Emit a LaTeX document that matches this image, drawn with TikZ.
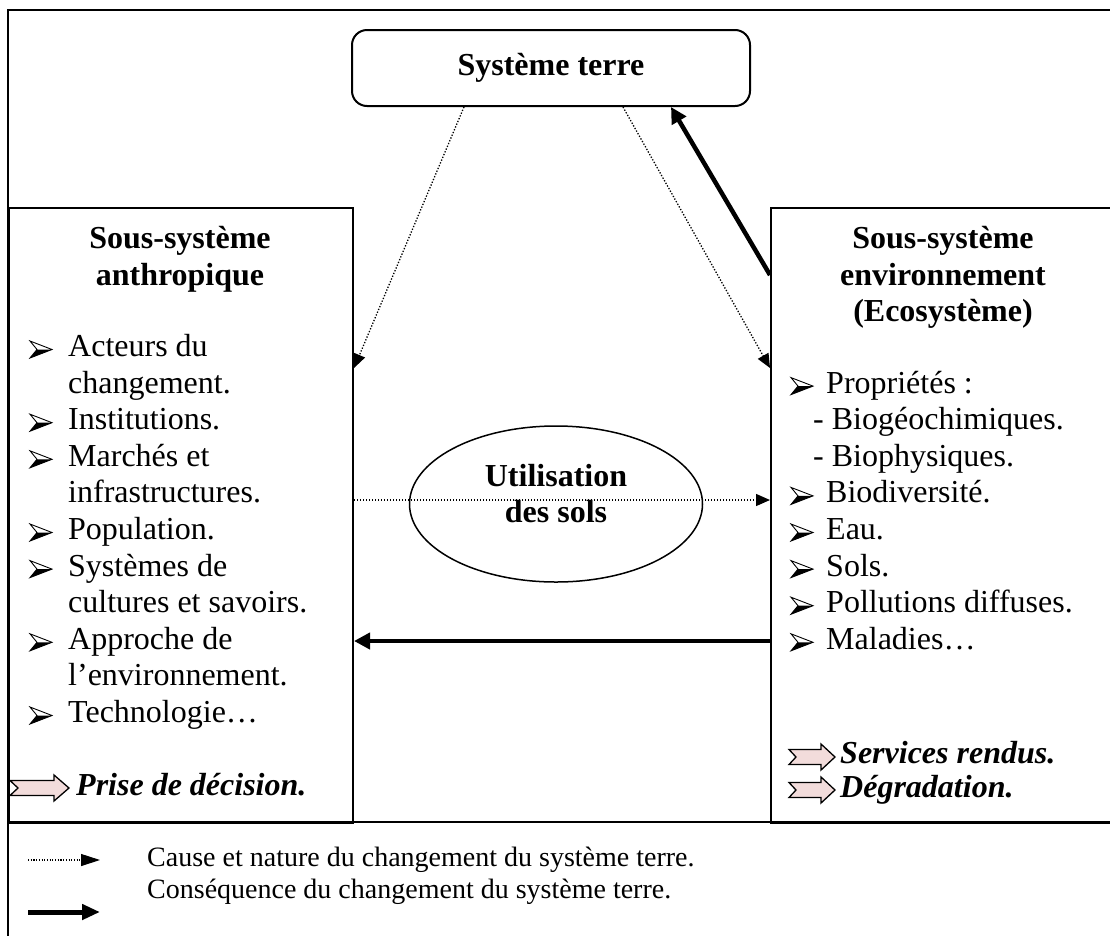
\documentclass[tikz,border=0pt]{standalone}
\usepackage{fontspec}
\setmainfont{Liberation Serif}
\usetikzlibrary{arrows.meta,shapes.geometric}
\definecolor{pinkfill}{HTML}{F2DCDB}
\newcommand\bodyfs{\fontsize{32}{36}\selectfont}
\newcommand\headfs{\fontsize{32}{36}\selectfont\bfseries}
\newcommand\legfs{\fontsize{28}{32}\selectfont}
\tikzset{
  frame/.style={draw, line width=2pt},
  box/.style={draw, line width=2pt, inner sep=0pt, anchor=north west},
  txt/.style={inner sep=0pt, font=\bodyfs, anchor=base west},
  head/.style={inner sep=0pt, font=\headfs, anchor=base},
  emph/.style={inner sep=0pt, font=\bodyfs\bfseries\itshape, anchor=base west},
  leg/.style={inner sep=0pt, font=\legfs, anchor=base west},
  dotarrow/.style={line width=1.3pt, dash pattern=on 1.3pt off 1.7pt, -{Triangle[length=14pt,width=12pt]}},
  thickarrow/.style={line width=4.5pt, -{Triangle[length=16pt,width=16pt]}},
  bul/.pic={\fill (7,0) -- (22,0) -- (0,8.5) -- cycle;
            \draw[line width=0.9pt, line join=miter] (0,-8.5) -- (22,0) -- (0,8.5) -- (7,0) -- cycle;},
  blockarr/.pic={\draw[fill=pinkfill, line width=1.3pt, line join=miter]
            (0,-7.5) -- (32,-7.5) -- (32,-13) -- (46,0) -- (32,13) -- (32,7.5) -- (0,7.5) -- (7,0) -- cycle;},
  blockarrL/.pic={\draw[fill=pinkfill, line width=1.3pt, line join=miter]
            (0,-7.5) -- (44,-7.5) -- (44,-13) -- (59,0) -- (44,13) -- (44,7.5) -- (0,7.5) -- (8,0) -- cycle;},
}
\begin{document}
\begin{tikzpicture}[x=1pt,y=-1pt]
\useasboundingbox (0,0) rectangle (1110,935);
\clip (0,0) rectangle (1110,935);
% outer frame
\draw[frame] (8,10) rectangle (1125,960);
\draw[frame] (8,822) -- (1125,822);
% boxes
\node[box, minimum width=344pt, minimum height=615pt] (anthro) at (8,207) {};
\node[box, minimum width=346pt, minimum height=615pt] (env) at (770,207) {};
\node[draw, line width=2pt, rounded corners=15pt, minimum width=398pt, minimum height=76pt,
      inner sep=0pt, font=\headfs] (terre) at (551,68) {Système terre};
\node[ellipse, draw, line width=1.5pt, minimum width=293pt, minimum height=156pt, inner sep=0pt] (util) at (556,504) {};
\node[head] (u1) at (556,486) {Utilisation};
\node[head] (u2) at (556,522) {des sols};
% headings
\node[head] (h1) at (180,248) {Sous-système};
\node[head] (h2) at (180,285) {anthropique};
\node[head] (h3) at (943,248) {Sous-système};
\node[head] (h4) at (943,285) {environnement};
\node[head] (h5) at (943,321) {(Ecosystème)};
% left list
\node[txt] (l0) at (68,356.5) {Acteurs du};
\node[txt] (l1) at (68,393.1) {changement.};
\node[txt] (l2) at (68,429.7) {Institutions.};
\node[txt] (l3) at (68,466.3) {Marchés et};
\node[txt] (l4) at (68,502.9) {infrastructures.};
\node[txt] (l5) at (68,539.5) {Population.};
\node[txt] (l6) at (68,576.1) {Systèmes de};
\node[txt] (l7) at (68,612.7) {cultures et savoirs.};
\node[txt] (l8) at (68,649.3) {Approche de};
\node[txt] (l9) at (68,685.9) {l’environnement.};
\node[txt] (l10) at (68,722.5) {Technologie…};
\foreach \b in {356.5,429.7,466.3,539.5,576.1,649.3,722.5}
  \pic at (30,\b-7) {bul};
\pic at (10,788) {blockarrL};
\node[emph] (pd) at (76,795) {Prise de décision.};
% right list
\node[txt] (r1) at (826,393.1) {Propriétés :};
\node[txt] (r2) at (813,429.7) {- Biogéochimiques.};
\node[txt] (r3) at (813,466.3) {- Biophysiques.};
\node[txt] (r4) at (826,502.9) {Biodiversité.};
\node[txt] (r5) at (826,539.5) {Eau.};
\node[txt] (r6) at (826,576.1) {Sols.};
\node[txt] (r7) at (826,612.7) {Pollutions diffuses.};
\node[txt] (r8) at (826,649.3) {Maladies…};
\foreach \b in {393.1,502.9,539.5,576.1,612.7,649.3}
  \pic at (791,\b-7) {bul};
\pic at (789,757) {blockarr};
\pic at (789,790) {blockarr};
\node[emph] (sr) at (840,763) {Services rendus.};
\node[emph] (dg) at (840,797) {Dégradation.};
% connector end points
\path (terre.south west) ++(113,0) coordinate (s1);
\path (terre.south west) ++(272,0) coordinate (s2);
\path (terre.south west) ++(320,0) coordinate (s3);
\path (anthro.north east) ++(0,161) coordinate (e1);
\path (env.north west) ++(0,161) coordinate (e2);
\path (env.north west) ++(0,68) coordinate (e3);
\path (anthro.north east) ++(0,293) coordinate (m1);
\path (env.north west) ++(0,293) coordinate (m2);
\path (env.north west) ++(0,434) coordinate (b1);
\path (anthro.north east) ++(0,434) coordinate (b2);
% connectors
\draw[dotarrow] (s1) -- (e1);
\draw[dotarrow] (s2) -- (e2);
\draw[thickarrow] (e3) -- (s3);
\draw[dotarrow] (m1) -- (m2);
\draw[thickarrow] (b1) -- (b2);
% legend
\coordinate (g1) at (28,860);
\coordinate (g2) at (100,860);
\coordinate (g3) at (28,912);
\coordinate (g4) at (100,912);
\draw[line width=1.1pt, dash pattern=on 1.1pt off 1.6pt, -{Triangle[length=19pt,width=12pt]}] (g1) -- (g2);
\draw[line width=5pt, -{Triangle[length=18pt,width=15pt]}] (g3) -- (g4);
\node[leg] (lt1) at (147,866) {Cause et nature du changement du système terre.};
\node[leg] (lt2) at (147,898) {Conséquence du changement du système terre.};
\end{tikzpicture}
\end{document}
